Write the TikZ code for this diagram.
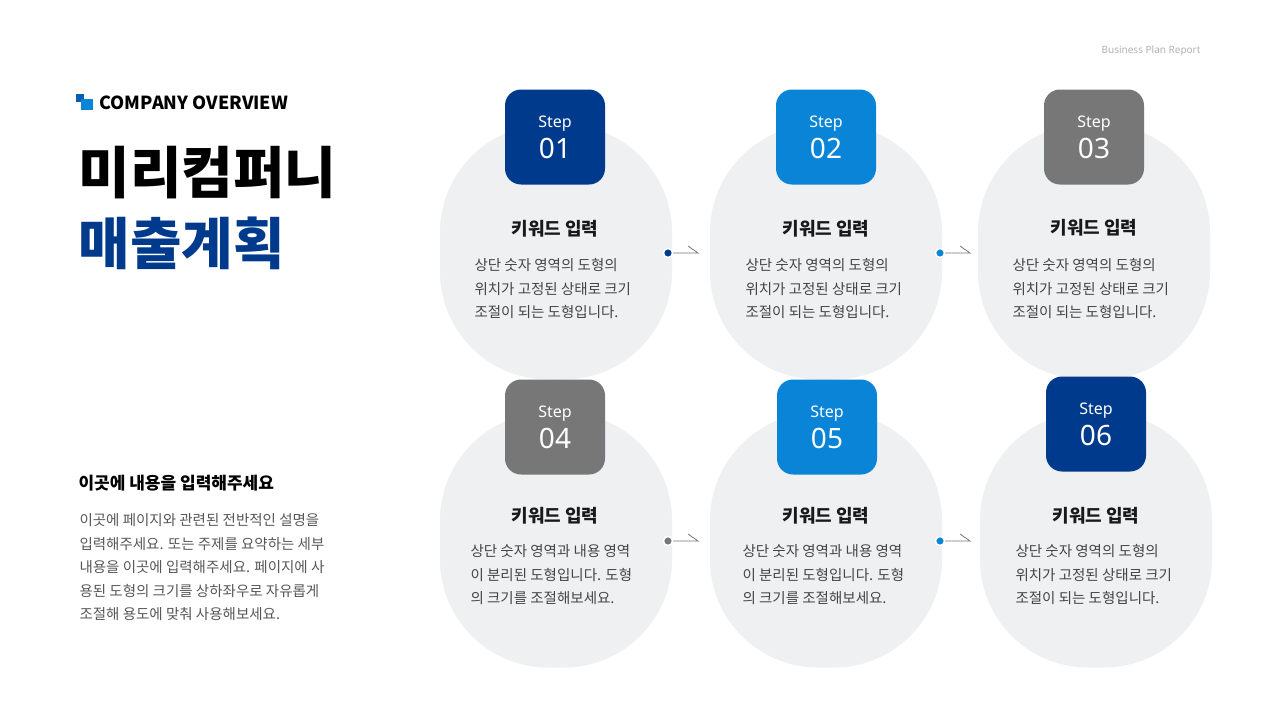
\documentclass[tikz,border=0pt]{standalone}
\usepackage{fontspec}
\setmainfont{Noto Sans CJK KR}
\newfontfamily\lat{Noto Sans}
\definecolor{dblue}{HTML}{003A8C}
\definecolor{lblue}{HTML}{0A84D6}
\definecolor{sgray}{HTML}{777777}
\definecolor{efill}{HTML}{EEF0F2}
\definecolor{tgray}{HTML}{444444}
\tikzset{
 card/.style={rectangle,rounded corners=108pt,fill=efill,minimum width=232pt,minimum height=255pt,inner sep=0},
 stepbox/.style={rounded corners=16pt,minimum width=100pt,minimum height=95pt,inner sep=0,text=white,align=center,font=\lat\fontsize{28}{30}\selectfont},
 ttl/.style={font=\fontsize{18}{20}\selectfont\bfseries,text=black!90},
 body/.style={font=\fontsize{14.5}{23.5}\selectfont,text=tgray,align=left,anchor=north west},
 conn/.style={draw=sgray,line width=0.8pt},
 dotc/.style={circle,fill=#1,draw=white,line width=1.5pt,inner sep=0,minimum size=9pt},
}
\begin{document}
\begin{tikzpicture}[x=1pt,y=-1pt]
\useasboundingbox (0,0) rectangle (1280,720);
\fill[white] (0,0) rectangle (1280,720);
\node[anchor=east,text=black!30,font=\lat\fontsize{10}{12}\selectfont] (brand) at (1204,51) {Business Plan Report};
% logo
\fill[dblue!50!lblue] (76,94) rectangle (84,102);
\fill[lblue] (81,99) rectangle (93,110);
\node[anchor=west,font=\fontsize{18}{20}\selectfont\bfseries] (co) at (96,103) {COMPANY OVERVIEW};
\node[anchor=west,font=\fontsize{56}{60}\selectfont\bfseries] (t1) at (75,173) {미리컴퍼니};
\node[anchor=west,font=\fontsize{56}{60}\selectfont\bfseries,text=dblue] (t2) at (75,243) {매출계획};
\node[anchor=west,font=\fontsize{17}{20}\selectfont\bfseries] (sub) at (75,483) {이곳에 내용을 입력해주세요};
\node[body,text=tgray!90,anchor=north west] (para) at (76,510) {이곳에 페이지와 관련된 전반적인 설명을\\입력해주세요. 또는 주제를 요약하는 세부\\내용을 이곳에 입력해주세요. 페이지에 사\\용된 도형의 크기를 상하좌우로 자유롭게\\조절해 용도에 맞춰 사용해보세요.};
% cards
\node[card] (e1) at (556,252) {};
\node[card] (e2) at (826,252) {};
\node[card] (e3) at (1094,252) {};
\node[card] (e4) at (556,540) {};
\node[card] (e5) at (826,540) {};
\node[card] (e6) at (1096,540) {};
\foreach \n/\x/\y/\c/\num in {1/555/137/dblue/01,2/826/137/lblue/02,3/1094/137/sgray/03,4/555/427/sgray/04,5/827/427/lblue/05,6/1096/424/dblue/06}{
 \node[stepbox,fill=\c] (s\n) at (\x,\y) {\fontsize{16}{18}\selectfont Step\\[1pt]\num};
}
\foreach \n/\x/\y in {1/555/229,2/826/229,3/1094/228,4/555/516,5/826/516,6/1096/516}{
 \node[ttl] (k\n) at (\x,\y) {키워드 입력};
}
\node[body] (b1) at (471,255) {상단 숫자 영역의 도형의\\위치가 고정된 상태로 크기\\조절이 되는 도형입니다.};
\node[body] (b2) at (742,255) {상단 숫자 영역의 도형의\\위치가 고정된 상태로 크기\\조절이 되는 도형입니다.};
\node[body] (b3) at (1009,255) {상단 숫자 영역의 도형의\\위치가 고정된 상태로 크기\\조절이 되는 도형입니다.};
\node[body] (b4) at (467,541) {상단 숫자 영역과 내용 영역\\이 분리된 도형입니다. 도형\\의 크기를 조절해보세요.};
\node[body] (b5) at (739,541) {상단 숫자 영역과 내용 영역\\이 분리된 도형입니다. 도형\\의 크기를 조절해보세요.};
\node[body] (b6) at (1012,541) {상단 숫자 영역의 도형의\\위치가 고정된 상태로 크기\\조절이 되는 도형입니다.};
% connectors
\foreach \a/\c/\x/\y in {1/dblue/668/253,2/lblue/940/253,4/sgray/668/541,5/lblue/940/541}{
 \coordinate (p\a) at (\x,\y);
 \coordinate (q\a) at (\x+30,\y);
 \draw[conn] (p\a) -- (q\a) -- ++(-10,-7);
 \node[dotc=\c] at (p\a) {};
}
\end{tikzpicture}
\end{document}
